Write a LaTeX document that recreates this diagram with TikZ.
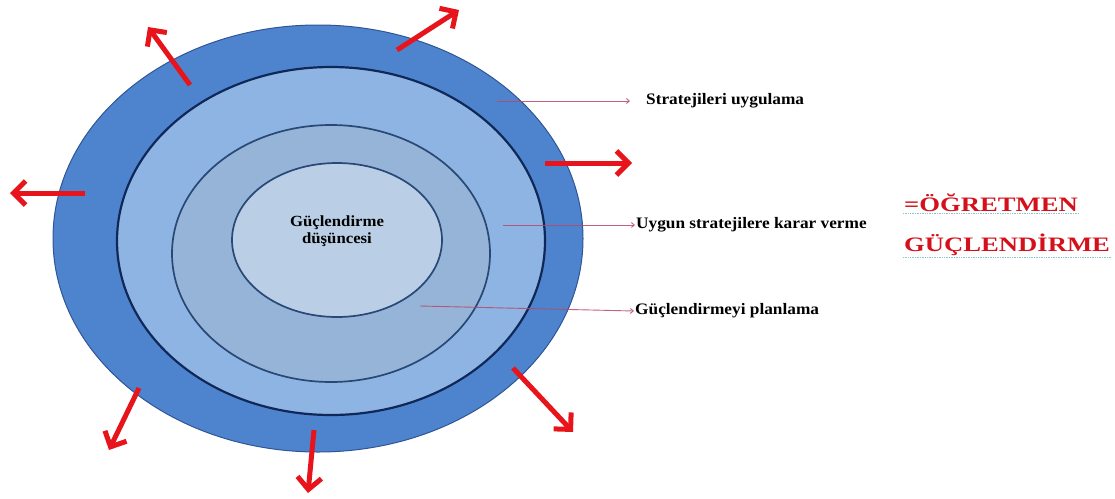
\documentclass[tikz,border=0pt]{standalone}
\usepackage{fontspec}
\setmainfont{Liberation Serif}
\newfontfamily\lblfont[FakeStretch=1.08]{Liberation Serif}
\newfontfamily\redfont[FakeStretch=1.3]{Liberation Serif}
\usetikzlibrary{shapes.geometric, arrows.meta}

\definecolor{ringout}{RGB}{78,132,206}
\definecolor{ringtwo}{RGB}{141,180,226}
\definecolor{ringthree}{RGB}{150,180,215}
\definecolor{ringcore}{RGB}{186,206,230}
\definecolor{edgeout}{RGB}{47,85,151}
\definecolor{edgenavy}{RGB}{16,40,88}
\definecolor{edgemid}{RGB}{40,72,118}
\definecolor{burstred}{RGB}{232,20,27}
\definecolor{titlered}{RGB}{212,17,27}
\definecolor{pointerred}{RGB}{185,70,105}

\begin{document}
\begin{tikzpicture}[
  x=1pt, y=-1pt,
  layer/.style={ellipse, inner sep=0pt, line width=1.7pt},
  burst/.style={-{Straight Barb[length=12pt, width=24pt]}, line width=5pt,
                burstred},
  pointer/.style={-{Straight Barb[length=3pt, width=5pt]}, line width=0.9pt,
                  pointerred, opacity=0.85},
  lbl/.style={anchor=west, inner sep=1pt,
              font=\lblfont\bfseries\fontsize{16}{19}\selectfont},
  redtitle/.style={anchor=west, inner sep=1pt, titlered,
                   font=\redfont\bfseries\fontsize{20.5}{24}\selectfont},
  squiggle/.style={densely dotted, line width=0.7pt, teal!45}
]
  \useasboundingbox (0,0) rectangle (1115,498);

  % Katmanlar
  \node[layer, fill=ringout, draw=edgeout, line width=1pt,
        minimum width=530pt, minimum height=427pt] (outer) at (318,238.5) {};
  \node[layer, fill=ringtwo, draw=edgenavy, line width=2.2pt,
        minimum width=428pt, minimum height=348pt] (second) at (331,241) {};
  \node[layer, fill=ringthree, draw=edgemid,
        minimum width=318pt, minimum height=257pt] (third) at (331,253.5) {};
  \node[layer, fill=ringcore, draw=edgemid,
        minimum width=210pt, minimum height=154pt] (core) at (337,240) {};
  \node[align=center, font=\lblfont\bfseries\fontsize{15.5}{16.5}\selectfont]
    (idea) at (337,231) {Güçlendirme\\düşüncesi};

  % Dışa doğru oklar
  \foreach \tx/\ty/\hx/\hy [count=\k] in {190/85/148/27, 397/50/459/10,
      85/193/10/193, 545/163/632/163, 513/368/573/432, 314/430/308/493,
      139/388/109/450} {
    \coordinate (t\k) at (\tx,\ty);
    \coordinate (h\k) at (\hx,\hy);
    \draw[burst] (t\k) -- (h\k);
  }

  % Etiketler
  \node[lbl, inner xsep=16pt] (apply) at (630,101) {Stratejileri uygulama};
  \node[lbl] (decide) at (635,225) {Uygun stratejilere karar verme};
  \node[lbl] (plan) at (634,311) {Güçlendirmeyi planlama};

  \coordinate (s1) at (497,101);
  \coordinate (s2) at (503,225);
  \coordinate (s3) at (420,306);
  \draw[pointer] (s1) -- (apply.west);
  \draw[pointer] (s2) -- (decide.west);
  \draw[pointer] (s3) -- (plan.west);

  % Başlık
  \node[redtitle] (teacher) at (903,203) {=ÖĞRETMEN};
  \node[redtitle] (empower) at (903,245) {GÜÇLENDİRME};
  \draw[squiggle] (teacher.south west) -- (teacher.south east);
  \draw[squiggle] (empower.south west) -- (empower.south east);
\end{tikzpicture}
\end{document}
